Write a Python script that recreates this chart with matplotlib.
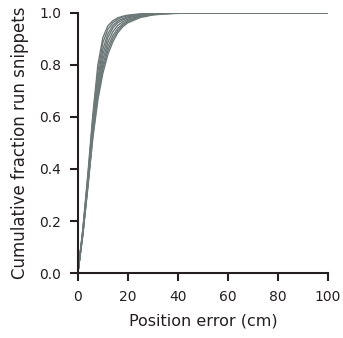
import matplotlib
matplotlib.use('Agg')
import matplotlib.pyplot as plt

# position error grid (cm)
err_cm = [0, 2, 4, 6, 8, 10, 12, 14, 16, 18, 20, 25, 30, 35, 40, 50, 100]

# cumulative fraction for each run snippet
cdf_a = [0, 0.170, 0.380, 0.610, 0.800, 0.905, 0.950, 0.970, 0.981, 0.987, 0.991, 0.996, 0.998, 0.999, 1, 1, 1]
cdf_b = [0, 0.165, 0.370, 0.595, 0.775, 0.885, 0.937, 0.962, 0.976, 0.984, 0.989, 0.995, 0.998, 0.999, 1, 1, 1]
cdf_c = [0, 0.160, 0.360, 0.580, 0.750, 0.860, 0.920, 0.952, 0.969, 0.978, 0.985, 0.993, 0.997, 0.999, 1, 1, 1]
cdf_d = [0, 0.160, 0.355, 0.565, 0.730, 0.840, 0.905, 0.942, 0.962, 0.973, 0.981, 0.991, 0.996, 0.998, 0.999, 1, 1]
cdf_e = [0, 0.155, 0.345, 0.550, 0.710, 0.820, 0.887, 0.928, 0.952, 0.966, 0.976, 0.989, 0.995, 0.998, 0.999, 1, 1]
cdf_f = [0, 0.150, 0.340, 0.540, 0.695, 0.800, 0.870, 0.913, 0.941, 0.959, 0.971, 0.987, 0.994, 0.997, 0.999, 1, 1]
cdf_g = [0, 0.150, 0.335, 0.530, 0.680, 0.785, 0.855, 0.901, 0.932, 0.953, 0.967, 0.985, 0.993, 0.997, 0.999, 1, 1]
cdf_h = [0, 0.150, 0.330, 0.520, 0.665, 0.768, 0.840, 0.889, 0.924, 0.947, 0.962, 0.982, 0.992, 0.996, 0.998, 1, 1]

curves = [cdf_a, cdf_b, cdf_c, cdf_d, cdf_e, cdf_f, cdf_g, cdf_h]

dark = '#231f20'
plt.rcParams['text.color'] = dark
plt.rcParams['axes.labelcolor'] = dark
plt.rcParams['xtick.color'] = dark
plt.rcParams['ytick.color'] = dark

fig = plt.figure(figsize=(3.43, 3.38), dpi=100)
ax = fig.add_axes([0.227, 0.192, 0.729, 0.770])

for c in curves:
    ax.plot(err_cm, c, color='#6d7979', lw=1.0)

ax.set_xlim(0, 100)
ax.set_ylim(0, 1.0)
ax.set_xticks([0, 20, 40, 60, 80, 100])
ax.set_yticks([0, 0.2, 0.4, 0.6, 0.8, 1.0])
ax.set_xlabel('Position error (cm)', fontsize=11.5, labelpad=7)
ax.set_ylabel('Cumulative fraction run snippets', fontsize=12, labelpad=7)
ax.tick_params(labelsize=10, length=6, width=1.5, pad=6)
for s in ['top', 'right']:
    ax.spines[s].set_visible(False)
for s in ['left', 'bottom']:
    ax.spines[s].set_linewidth(1.5)
    ax.spines[s].set_color(dark)

fig.savefig('out.png', dpi=100)
